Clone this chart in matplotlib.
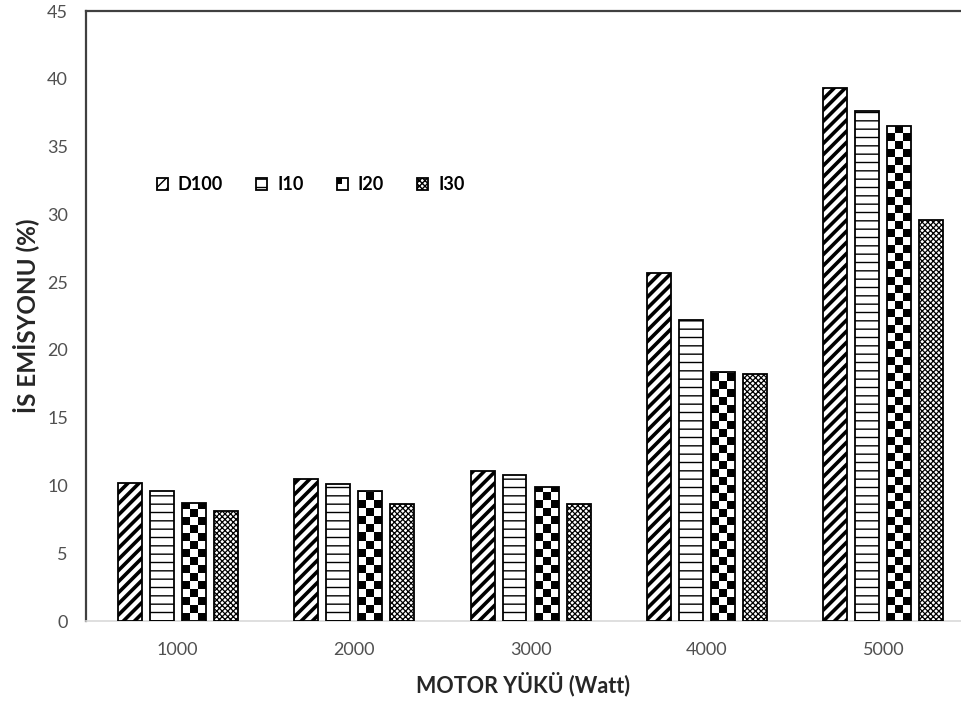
import numpy as np
import matplotlib
matplotlib.use("Agg")
import matplotlib.pyplot as plt
from matplotlib.patches import Rectangle
from matplotlib.legend_handler import HandlerPatch

plt.rcParams['font.family'] = ['Lato', 'DejaVu Sans']

# data
loads = ['1000', '2000', '3000', '4000', '5000']
series = ['D100', 'I10', 'I20', 'I30']
d100 = [10.2, 10.5, 11.1, 25.7, 39.3]
i10 = [9.6, 10.1, 10.8, 22.2, 37.6]
i20 = [8.7, 9.6, 9.9, 18.4, 36.5]
i30 = [8.1, 8.6, 8.6, 18.2, 29.6]
values = [d100, i10, i20, i30]
yticks = [0, 5, 10, 15, 20, 25, 30, 35, 40, 45]

hatches = ['///', '--', None, 'xxxxxx']
hatch_lw = [2.6, 1.0, 1.0, 0.9]
offsets = [-0.272, -0.091, 0.091, 0.272]
width = 0.136

fig = plt.figure(figsize=(9.61, 7.02), dpi=100)
ax = fig.add_axes([86 / 961, 81 / 702, 875 / 961, 610 / 702])

x = np.arange(len(loads))
bar_groups = []
for k, name in enumerate(series):
    if hatches[k] is None:
        bars = ax.bar(x + offsets[k], values[k], width, facecolor='none',
                      edgecolor='black', linewidth=1.3, zorder=3, label=name)
    else:
        bars = ax.bar(x + offsets[k], values[k], width, facecolor='white',
                      edgecolor='black', linewidth=1.3, hatch=hatches[k],
                      zorder=3, label=name)
        for b in bars:
            if hasattr(b, 'set_hatch_linewidth'):
                b.set_hatch_linewidth(hatch_lw[k])
    bar_groups.append(bars)

# checkerboard fill for I20 bars
sq = 0.59
for b in bar_groups[2]:
    x0 = b.get_x()
    h = b.get_height()
    nrows = int(np.ceil(h / sq))
    board = (np.indices((nrows, 3)).sum(axis=0) % 2).astype(float)
    img = ax.imshow(board, cmap='gray', vmin=0, vmax=1, interpolation='nearest',
                    extent=(x0, x0 + b.get_width(), 0, nrows * sq),
                    origin='lower', aspect='auto', zorder=2)
    img.set_clip_path(b)

ax.set_xlim(-0.52, 4.44)
ax.set_ylim(0, 45)
ax.set_xticks(x)
ax.set_xticklabels(loads)
ax.set_yticks(yticks)
ax.tick_params(axis='both', length=0, labelsize=13, colors='#505050')
ax.tick_params(axis='y', pad=13)
ax.tick_params(axis='x', pad=15)

ax.spines['right'].set_visible(False)
ax.spines['top'].set_color('#404040')
ax.spines['left'].set_color('#404040')
ax.spines['top'].set_linewidth(1.6)
ax.spines['left'].set_linewidth(1.6)
ax.spines['bottom'].set_color('#d9d9d9')
ax.spines['bottom'].set_linewidth(1.2)

ax.set_xlabel('MOTOR YÜKÜ (Watt)', fontsize=15.5, fontweight='bold',
              color='#262626', labelpad=10)
ax.set_ylabel('İS EMİSYONU (%)', fontsize=17.5, fontweight='bold',
              color='#262626', labelpad=6)


class CheckerHandler(HandlerPatch):
    def create_artists(self, legend, orig_handle, xdescent, ydescent,
                       width, height, fontsize, trans):
        outer = Rectangle((-xdescent, -ydescent), width, height,
                          facecolor='white', edgecolor='black', lw=1.3,
                          transform=trans)
        inner = Rectangle((-xdescent, -ydescent + height / 2), width / 2,
                          height / 2, facecolor='black', edgecolor='none',
                          transform=trans)
        return [outer, inner]


handles = [bar_groups[k][0] for k in range(4)]
leg = ax.legend(handles, series, loc='center left',
                bbox_to_anchor=(148 / 961, 1 - 185 / 702),
                bbox_transform=fig.transFigure, ncol=4, frameon=False,
                handlelength=0.6, handleheight=0.6, handletextpad=0.55,
                columnspacing=1.85, borderpad=0,
                prop={'weight': 'bold', 'size': 13},
                handler_map={bar_groups[2][0]: CheckerHandler()})

fig.savefig('out.png', dpi=100)
